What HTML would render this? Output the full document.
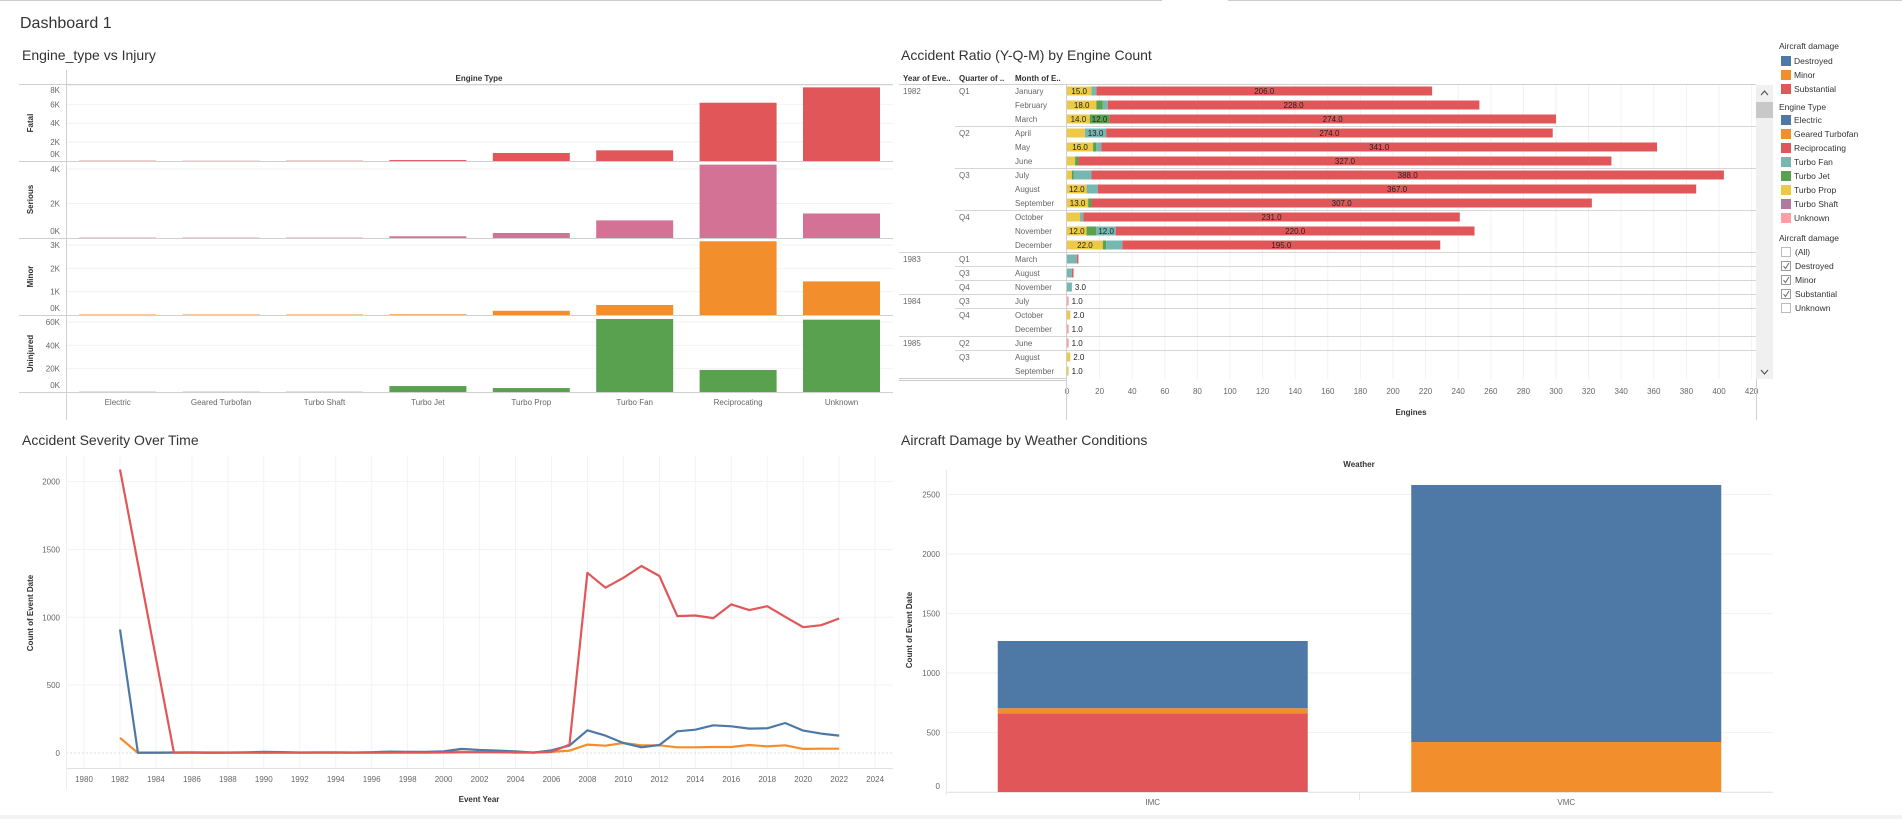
<!DOCTYPE html>
<html><head><meta charset="utf-8"><title>Dashboard 1</title>
<style>
html,body{margin:0;padding:0;background:#fff;}
svg{display:block;font-family:"Liberation Sans",sans-serif;}
.ttl{font-size:14px;fill:#333;}
.ax{font-size:8px;fill:#666;}
.hd{font-size:8px;fill:#333;font-weight:bold;}
.lg{font-size:8.5px;fill:#333;}
</style></head>
<body>
<svg id="chart" width="1902" height="819" viewBox="0 0 1902 819" xmlns="http://www.w3.org/2000/svg">
  <rect x="0" y="0" width="1902" height="819" fill="#fff"/>
  <line x1="0" y1="0.5" x2="1162" y2="0.5" stroke="#ccc"/>
  <line x1="1228" y1="0.5" x2="1902" y2="0.5" stroke="#ccc"/>
  <text x="20" y="28" style="font-size:16px;fill:#333">Dashboard 1</text>
  <text x="22" y="60" class="ttl">Engine_type vs Injury</text>
  <text x="901" y="60" class="ttl">Accident Ratio (Y-Q-M) by Engine Count</text>
  <text x="22" y="445" class="ttl">Accident Severity Over Time</text>
  <text x="901" y="445" class="ttl">Aircraft Damage by Weather Conditions</text>
  <rect x="0" y="815" width="1902" height="4" fill="#f3f3f3"/>

  <g id="c1"></g>
  <g id="c2"></g>
  <g id="c3"></g>
  <g id="c4"></g>

  <!-- scrollbar -->
  <g>
    <rect x="1756" y="85" width="17" height="294" fill="#f0f0f0"/>
    <rect x="1756" y="102" width="17" height="16" fill="#c8c8c8"/>
    <path d="M1761 95 L1764.5 91 L1768 95" fill="none" stroke="#555" stroke-width="1.2"/>
    <path d="M1761 370 L1764.5 374 L1768 370" fill="none" stroke="#555" stroke-width="1.2"/>
  </g>

  <!-- legends -->
  <g>
    <text x="1779" y="49" class="lg">Aircraft damage</text>
    <rect x="1781" y="56" width="10" height="10" fill="#4e79a7"/>
    <text x="1794" y="64" class="lg">Destroyed</text>
    <rect x="1781" y="70" width="10" height="10" fill="#f28e2b"/>
    <text x="1794" y="78" class="lg">Minor</text>
    <rect x="1781" y="84" width="10" height="10" fill="#e15759"/>
    <text x="1794" y="92" class="lg">Substantial</text>
  </g>
  <g>
    <text x="1779" y="110" class="lg">Engine Type</text>
    <rect x="1781" y="115" width="10" height="10" fill="#4e79a7"/>
    <text x="1794" y="123" class="lg">Electric</text>
    <rect x="1781" y="129" width="10" height="10" fill="#f28e2b"/>
    <text x="1794" y="137" class="lg">Geared Turbofan</text>
    <rect x="1781" y="143" width="10" height="10" fill="#e15759"/>
    <text x="1794" y="151" class="lg">Reciprocating</text>
    <rect x="1781" y="157" width="10" height="10" fill="#76b7b2"/>
    <text x="1794" y="165" class="lg">Turbo Fan</text>
    <rect x="1781" y="171" width="10" height="10" fill="#59a14f"/>
    <text x="1794" y="179" class="lg">Turbo Jet</text>
    <rect x="1781" y="185" width="10" height="10" fill="#edc948"/>
    <text x="1794" y="193" class="lg">Turbo Prop</text>
    <rect x="1781" y="199" width="10" height="10" fill="#b07aa1"/>
    <text x="1794" y="207" class="lg">Turbo Shaft</text>
    <rect x="1781" y="213" width="10" height="10" fill="#ff9da7"/>
    <text x="1794" y="221" class="lg">Unknown</text>
  </g>
  <g>
    <text x="1779" y="241" class="lg">Aircraft damage</text>
    <rect x="1781.5" y="247.5" width="9" height="9" fill="#fff" stroke="#bbb"/>
    <text x="1795" y="255" class="lg">(All)</text>
    <rect x="1781.5" y="261.5" width="9" height="9" fill="#fff" stroke="#999"/>
    <path d="M1783.5 266 L1785.5 268.5 L1789 263" fill="none" stroke="#666"/>
    <text x="1795" y="269" class="lg">Destroyed</text>
    <rect x="1781.5" y="275.5" width="9" height="9" fill="#fff" stroke="#999"/>
    <path d="M1783.5 280 L1785.5 282.5 L1789 277" fill="none" stroke="#666"/>
    <text x="1795" y="283" class="lg">Minor</text>
    <rect x="1781.5" y="289.5" width="9" height="9" fill="#fff" stroke="#999"/>
    <path d="M1783.5 294 L1785.5 296.5 L1789 291" fill="none" stroke="#666"/>
    <text x="1795" y="297" class="lg">Substantial</text>
    <rect x="1781.5" y="303.5" width="9" height="9" fill="#fff" stroke="#bbb"/>
    <text x="1795" y="311" class="lg">Unknown</text>
  </g>
</svg>
<script>
// ---------- Chart 1 data (values in thousands) ----------
const engineCats = ['Electric','Geared Turbofan','Turbo Shaft','Turbo Jet','Turbo Prop','Turbo Fan','Reciprocating','Unknown'];
const fatalVals = [0.03,0.02,0.03,0.1,0.85,1.13,6.17,7.8];
const seriousVals = [0.02,0.02,0.02,0.1,0.29,1.02,4.25,1.42];
const minorVals = [0.02,0.02,0.02,0.03,0.18,0.43,3.16,1.44];
const uninjuredVals = [0.2,0.2,0.2,5.1,3.4,62.6,18.9,62];
const fatalTicks = [0,2,4,6,8];
const seriousTicks = [0,2,4];
const minorTicks = [0,1,2,3];
const uninjuredTicks = [0,20,40,60];

// ---------- Chart 2 data ----------
const ratioYears = ['1982','','','','','','','','','','','','1983','','','1984','','','1985','',''];
const ratioQuarters = ['Q1','','','Q2','','','Q3','','','Q4','','','Q1','Q3','Q4','Q3','Q4','','Q2','Q3',''];
const ratioMonths = ['January','February','March','April','May','June','July','August','September','October','November','December','March','August','November','July','October','December','June','August','September'];
const turboProp = [15,18,14,11,16,5,3,12,13,8,12,22,0,0,0,0,2,0,0,2,1];
const turboJet = [0,4,12,0,2,2,1,0,2,0,6,2,0,0,0,0,0,0,0,0,0];
const turboFan = [3,3,0,13,3,0,11,7,0,2,12,10,6,3,3,0,0,0,0,0,0];
const reciprocating = [206,228,274,274,341,327,388,367,307,231,220,195,1,1,0,0,0,0,0,0,0];
const unknownEng = [0,0,0,0,0,0,0,0,0,0,0,0,0,0,0,1,0,1,1,0,0];
const engineTicks = [0,20,40,60,80,100,120,140,160,180,200,220,240,260,280,300,320,340,360,380,400,420];

// ---------- Chart 3 data ----------
const eventYears = [1982,1983,1984,1985,1986,1987,1988,1989,1990,1991,1992,1993,1994,1995,1996,1997,1998,1999,2000,2001,2002,2003,2004,2005,2006,2007,2008,2009,2010,2011,2012,2013,2014,2015,2016,2017,2018,2019,2020,2021,2022];
const substantialSeries = [2090,null,null,3,2,3,2,2,3,2,2,3,2,2,3,3,2,3,4,5,6,5,4,3,8,62,1328,1218,1291,1378,1304,1009,1013,994,1095,1053,1082,1004,927,942,991];
const destroyedSeries = [910,3,3,4,5,4,4,5,8,7,4,5,5,4,6,10,8,9,12,30,22,18,12,3,20,55,167,128,74,42,59,160,172,204,197,180,182,221,165,143,128];
const minorSeries = [111,1,1,2,2,1,2,2,2,3,2,2,3,2,3,4,5,4,10,8,6,8,4,5,8,17,62,54,74,57,57,42,42,44,44,59,49,57,30,32,32];
const yearTicks = [1980,1982,1984,1986,1988,1990,1992,1994,1996,1998,2000,2002,2004,2006,2008,2010,2012,2014,2016,2018,2020,2022,2024];
const countTicks = [0,500,1000,1500,2000];

// ---------- Chart 4 data ----------
const weatherCats = ['IMC','VMC'];
const weatherSubstantial = [662,0];
const weatherMinor = [42,420];
const weatherDestroyed = [565,2160];
const weatherTicks = [0,500,1000,1500,2000,2500];

const NS = 'http://www.w3.org/2000/svg';
function mk(tag, attrs, parent){
  const e = document.createElementNS(NS, tag);
  for (const k in attrs) e.setAttribute(k, attrs[k]);
  parent.appendChild(e);
  return e;
}
function tx(parent, x, y, s, cls, anchor){
  const t = mk('text', {x:x, y:y, class:cls, 'text-anchor':anchor||'start'}, parent);
  t.textContent = s;
  return t;
}

// ================= Chart 1 =================
(function(){
  const g = document.getElementById('c1');
  const x0 = 66, band = 103.4, bw = 77;
  const xC = i => x0 + band*(i+0.5);
  const rows = [
    {name:'Fatal', vals:fatalVals, ticks:fatalTicks, color:'#e15759', top:85, base:161, max:8.05},
    {name:'Serious', vals:seriousVals, ticks:seriousTicks, color:'#d37295', top:161, base:238, max:4.46},
    {name:'Minor', vals:minorVals, ticks:minorTicks, color:'#f28e2b', top:238, base:315, max:3.3},
    {name:'Uninjured', vals:uninjuredVals, ticks:uninjuredTicks, color:'#59a14f', top:315, base:392, max:66}
  ];
  const h = tx(g, 479, 81, 'Engine Type', 'hd', 'middle');
  
  
  const hl = mk('line',{x1:19,y1:84.5,x2:893,y2:84.5,stroke:'#d0d0d0'},g);
  
  
  const vl = mk('line',{x1:66.5,y1:70,x2:66.5,y2:420,stroke:'#d0d0d0'},g);
  
  
  rows.forEach(r => {
    const yS = v => r.base - (v / r.max) * (r.base - r.top);
    r.ticks.forEach(t => {
      const y = yS(t);
      if (t > 0) {
        const gl = mk('line',{x1:67,y1:y,x2:893,y2:y,stroke:'#f2f2f2'},g);
        
        
      }
      const ly = Math.min(Math.max(y+3, r.top+8), r.base-4);
      const lab = tx(g, 60, ly, t+'K', 'ax', 'end');
      
      
    });
    r.vals.forEach((v,i) => {
      const y = yS(v);
      const b = mk('rect',{x:xC(i)-bw/2, y:y, width:bw, height:Math.max(r.base-y,0.8), fill:r.color},g);
      
      
    });
    const bl = mk('line',{x1:19,y1:r.base+0.5,x2:893,y2:r.base+0.5,stroke:'#d0d0d0'},g);
    
    
    const cy = (r.top + r.base)/2;
    const rl = tx(g, 0, 0, r.name, 'hd', 'middle');
    rl.setAttribute('transform','translate(33,'+cy+') rotate(-90)');
    
    
  });
  engineCats.forEach((c,i) => {
    const l = tx(g, xC(i), 405, c, 'ax', 'middle');
    
    
  });
})();

// ================= Chart 2 =================
(function(){
  const g = document.getElementById('c2');
  const x0 = 1067, k = 1.63, y0 = 84, rh = 14;
  const xS = v => x0 + v*k;
  const hs = [['Year of Eve..',903],['Quarter of ..',959],['Month of E..',1015]];
  hs.forEach(h => {
    const t = tx(g, h[1], 81, h[0], 'hd');
    
    
  });
  engineTicks.forEach(t => {
    const x = xS(t);
    if (t > 0 && x < 1756) {
      const gl = mk('line',{x1:x,y1:84,x2:x,y2:379,stroke:'#f2f2f2'},g);
      
      
    }
    const l = tx(g, x, 394, String(t), 'ax', 'middle');
    
    
  });
  const hl = mk('line',{x1:899,y1:y0+0.5,x2:1756,y2:y0+0.5,stroke:'#d0d0d0'},g);
  
  
  const series = [
    {vals:turboProp, color:'#edc948', name:'turbo-prop'},
    {vals:turboJet, color:'#59a14f', name:'turbo-jet'},
    {vals:turboFan, color:'#76b7b2', name:'turbo-fan'},
    {vals:reciprocating, color:'#e15759', name:'reciprocating'},
    {vals:unknownEng, color:'#ff9da7', name:'unknown'}
  ];
  ratioMonths.forEach((m,i) => {
    const yc = y0 + rh*i + 7;
    if (i > 0 && (ratioYears[i] || ratioQuarters[i])) {
      const lx = ratioYears[i] ? 899 : 955;
      const ln = mk('line',{x1:lx,y1:y0+rh*i+0.5,x2:1756,y2:y0+rh*i+0.5,stroke:'#d6d6d6'},g);
      
      
    }
    if (ratioYears[i]) {
      const t = tx(g, 903, yc+3, ratioYears[i], 'ax');
      
      
    }
    if (ratioQuarters[i]) {
      const t = tx(g, 959, yc+3, ratioQuarters[i], 'ax');
      
      
    }
    const mt = tx(g, 1015, yc+3, m, 'ax');
    
    
    let acc = 0, nonzero = 0, last = 0;
    series.forEach(s => { if (s.vals[i] > 0) { nonzero++; last = s.vals[i]; } });
    series.forEach(s => {
      const v = s.vals[i];
      if (v <= 0) return;
      const x = xS(acc), w = v*k;
      const b = mk('rect',{x:x, y:yc-4.5, width:w, height:9, fill:s.color},g);
      
      
      if (v >= 12) {
        const c = s.name === 'reciprocating' ? x + w/2 : x + w/2;
        const t = tx(g, c, yc+3, v.toFixed(1), 'ax', 'middle');
        t.setAttribute('style','fill:#222');
        
        
      }
      acc += v;
    });
    if (nonzero === 1 && last < 12) {
      const t = tx(g, xS(acc)+3, yc+3, last.toFixed(1), 'ax');
      t.setAttribute('style','fill:#222');
      
      
    }
  });
  const end1 = mk('line',{x1:899,y1:378.5,x2:1066,y2:378.5,stroke:'#ccc'},g);
  
  
  const end2 = mk('line',{x1:899,y1:380.5,x2:1066,y2:380.5,stroke:'#ccc'},g);
  
  
  const va = mk('line',{x1:1066.5,y1:84,x2:1066.5,y2:420,stroke:'#d0d0d0'},g);
  
  
  const vr = mk('line',{x1:1756.5,y1:379,x2:1756.5,y2:420,stroke:'#d0d0d0'},g);
  
  
  const at = tx(g, 1411, 415, 'Engines', 'hd', 'middle');
  
  
})();

// ================= Chart 3 =================
(function(){
  const g = document.getElementById('c3');
  const xS = yr => 84 + (yr-1980)*17.98;
  const yS = v => 753 - v*0.1357;
  yearTicks.forEach(t => {
    const gl = mk('line',{x1:xS(t),y1:456,x2:xS(t),y2:768,stroke:'#f3f3f3'},g);
    
    
    const l = tx(g, xS(t), 782, String(t), 'ax', 'middle');
    
    
  });
  countTicks.forEach(t => {
    const gl = mk('line',{x1:66,y1:yS(t),x2:893,y2:yS(t),stroke:t===0?'#ddd':'#f3f3f3','stroke-dasharray':t===0?'2,2':'none'},g);
    
    
    const l = tx(g, 60, yS(t)+3, String(t), 'ax', 'end');
    
    
  });
  const ax = mk('line',{x1:66,y1:768.5,x2:893,y2:768.5,stroke:'#e0e0e0'},g);
  
  
  const ay = mk('line',{x1:66.5,y1:456,x2:66.5,y2:790,stroke:'#eee'},g);
  
  
  const lines = [
    {vals:minorSeries, color:'#f28e2b', name:'line-minor'},
    {vals:destroyedSeries, color:'#4e79a7', name:'line-destroyed'},
    {vals:substantialSeries, color:'#e15759', name:'line-substantial'}
  ];
  lines.forEach(s => {
    let d = '';
    s.vals.forEach((v,i) => {
      if (v === null) return;
      d += (d ? ' L' : 'M') + xS(eventYears[i]).toFixed(1) + ' ' + yS(v).toFixed(1);
    });
    const p = mk('path',{d:d, fill:'none', stroke:s.color, 'stroke-width':2.2, 'stroke-linejoin':'round'},g);
    
    
  });
  const xt = tx(g, 479, 802, 'Event Year', 'hd', 'middle');
  
  
  const yt = tx(g, 0, 0, 'Count of Event Date', 'hd', 'middle');
  yt.setAttribute('transform','translate(33,613) rotate(-90)');
  
  
})();

// ================= Chart 4 =================
(function(){
  const g = document.getElementById('c4');
  const yS = v => 792 - v*0.119;
  const band = 413.5, x0 = 946, bw = 310;
  const xC = i => x0 + band*(i+0.5);
  const h = tx(g, 1359, 467, 'Weather', 'hd', 'middle');
  
  
  weatherTicks.forEach(t => {
    const gl = mk('line',{x1:946,y1:yS(t),x2:1773,y2:yS(t),stroke:'#f2f2f2'},g);
    
    
    const ly = t === 0 ? yS(t)-3 : yS(t)+3;
    const l = tx(g, 940, ly, String(t), 'ax', 'end');
    
    
  });
  const ay = mk('line',{x1:946.5,y1:470,x2:946.5,y2:795,stroke:'#e6e6e6'},g);
  
  
  const ax = mk('line',{x1:946,y1:792.5,x2:1773,y2:792.5,stroke:'#e6e6e6'},g);
  
  
  const dv = mk('line',{x1:1359.5,y1:792,x2:1359.5,y2:800,stroke:'#e6e6e6'},g);
  
  
  const stacks = [
    {vals:weatherSubstantial, color:'#e15759', name:'substantial'},
    {vals:weatherMinor, color:'#f28e2b', name:'minor'},
    {vals:weatherDestroyed, color:'#4e79a7', name:'destroyed'}
  ];
  weatherCats.forEach((c,i) => {
    let acc = 0;
    stacks.forEach(s => {
      const v = s.vals[i];
      if (v <= 0) return;
      const y1 = yS(acc + v), y2 = yS(acc);
      const b = mk('rect',{x:xC(i)-bw/2, y:y1, width:bw, height:y2-y1, fill:s.color},g);
      
      
      acc += v;
    });
    const l = tx(g, xC(i), 805, c, 'ax', 'middle');
    
    
  });
  const yt = tx(g, 0, 0, 'Count of Event Date', 'hd', 'middle');
  yt.setAttribute('transform','translate(912,630) rotate(-90)');
  
  
})();
</script>
</body></html>
